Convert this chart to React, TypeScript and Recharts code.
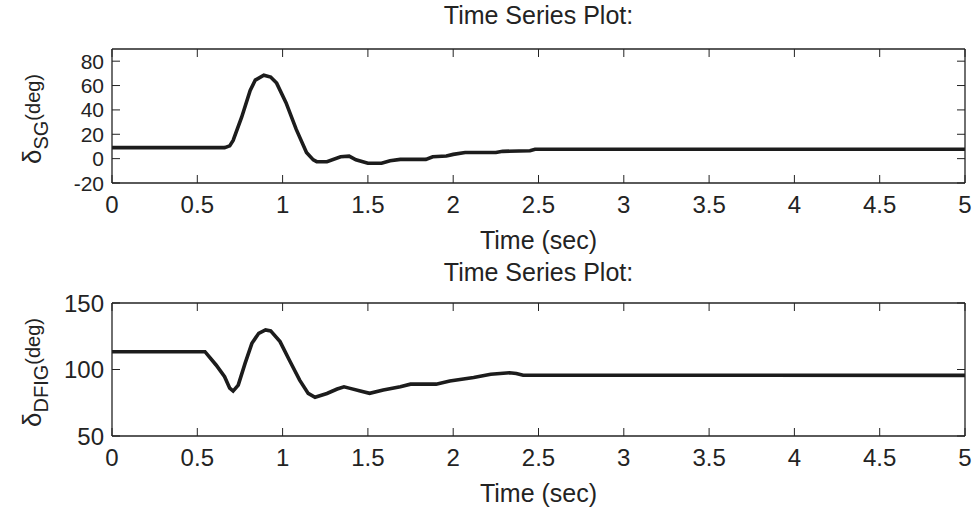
import React from 'react';
import { LineChart, Line, XAxis, YAxis } from 'recharts';

// time axis ticks shared by both subplots
const timeTicks = [0, 0.5, 1, 1.5, 2, 2.5, 3, 3.5, 4, 4.5, 5];
const sgTicks = [-20, 0, 20, 40, 60, 80];
const dfigTicks = [50, 100, 150];

// synchronous generator rotor angle (deg)
const sgTime = [0, 0.66, 0.69, 0.71, 0.76, 0.81, 0.84, 0.89, 0.93, 0.965, 1.02, 1.08, 1.14, 1.18, 1.2, 1.26, 1.34, 1.39, 1.43, 1.5, 1.58, 1.63, 1.69, 1.84, 1.88, 1.96, 2.0, 2.07, 2.25, 2.29, 2.45, 2.48, 5];
const sgAngle = [9, 9, 10.5, 15, 34, 56, 64.5, 68.5, 67, 62, 46, 24, 5, -1, -2.5, -2.5, 1.5, 2, -1, -3.8, -3.8, -1.7, -0.6, -0.6, 1.5, 2.2, 3.5, 5, 5, 6, 6.5, 7.7, 7.7];

// DFIG rotor angle (deg)
const dfigTime = [0, 0.545, 0.61, 0.66, 0.69, 0.71, 0.74, 0.78, 0.82, 0.86, 0.9, 0.93, 0.985, 1.04, 1.1, 1.15, 1.19, 1.26, 1.32, 1.36, 1.39, 1.45, 1.51, 1.59, 1.69, 1.75, 1.9, 1.98, 2.12, 2.22, 2.33, 2.37, 2.41, 5];
const dfigAngle = [113.4, 113.4, 103.4, 94.6, 86, 83.8, 88.3, 104.6, 119.7, 127.2, 129.7, 129, 121, 107, 92, 82, 79.1, 82, 85.3, 87, 86, 84.1, 82.1, 84.6, 87.1, 89, 89, 91.4, 94, 96.4, 97.6, 97, 95.7, 95.6];

const sgData = sgTime.map((t, i) => ({ t, v: sgAngle[i] }));
const dfigData = dfigTime.map((t, i) => ({ t, v: dfigAngle[i] }));

const FONT = '"Liberation Sans", Arial, Helvetica, sans-serif';
const INK = '#232323';
const TICK = 8;
const W = 975;
const LEFT = 112;
const RIGHT = 10;
const TOP = 49;
const PLOT_W = W - LEFT - RIGHT;

const XTick = (props: any) => {
  const { x, y, payload, plotH } = props;
  return (
    <g>
      <line x1={x} x2={x} y1={y} y2={y - TICK} stroke={INK} />
      <line x1={x} x2={x} y1={y - plotH} y2={y - plotH + TICK} stroke={INK} />
      <text x={x} y={y + 21.5} textAnchor="middle" dy="0.36em" fontFamily={FONT} fontSize={24} fill={INK}>
        {payload.value}
      </text>
    </g>
  );
};

const YTick = (props: any) => {
  const { x, y, payload, size } = props;
  return (
    <g>
      <line x1={x} x2={x + TICK} y1={y} y2={y} stroke={INK} />
      <line x1={x + PLOT_W} x2={x + PLOT_W - TICK} y1={y} y2={y} stroke={INK} />
      <text x={x - 8} y={y} textAnchor="end" dy="0.36em" fontFamily={FONT} fontSize={size} fill={INK}>
        {payload.value}
      </text>
    </g>
  );
};

const Title = ({ y, children }: { y: number; children: React.ReactNode }) => (
  <text x={LEFT + PLOT_W / 2} y={y} textAnchor="middle" dy="0.36em" fontFamily={FONT} fontSize={25} fill={INK}>
    {children}
  </text>
);

const YLabel = ({ sub, cy }: { sub: string; cy: number }) => (
  <text
    transform={`translate(41,${cy}) rotate(-90)`}
    textAnchor="middle"
    fontFamily={FONT}
    fontSize={20}
    fill={INK}
  >
    <tspan fontSize={26}>δ</tspan>
    <tspan dy={7}>{sub}</tspan>
    <tspan dy={-8}>(deg)</tspan>
  </text>
);

const Panel = ({ data, domain, ticks, sub, height, bottom, titleY, tickFont }: any) => {
  const plotH = height - TOP - bottom;
  const axisLine = { stroke: INK, strokeWidth: 1.3 };
  return (
    <LineChart
      width={W}
      height={height}
      data={data}
      margin={{ top: TOP - 10, right: 0, bottom: 0, left: 0 }}
    >
      <XAxis
        dataKey="t"
        type="number"
        domain={[0, 5]}
        ticks={timeTicks}
        height={bottom}
        tickSize={0}
        tickMargin={0}
        tickLine={false}
        axisLine={axisLine}
        tick={<XTick plotH={plotH} />}
        interval={0}
      />
      <XAxis
        xAxisId="top"
        orientation="top"
        type="number"
        domain={[0, 5]}
        height={10}
        tick={false}
        tickLine={false}
        axisLine={axisLine}
      />
      <YAxis
        type="number"
        domain={domain}
        ticks={ticks}
        allowDataOverflow
        width={LEFT}
        tickSize={0}
        tickMargin={0}
        tickLine={false}
        axisLine={axisLine}
        tick={<YTick size={tickFont} />}
        interval={0}
      />
      <YAxis
        yAxisId="right"
        orientation="right"
        type="number"
        domain={domain}
        width={RIGHT}
        tick={false}
        tickLine={false}
        axisLine={axisLine}
      />
      <Line
        type="linear"
        dataKey="v"
        stroke="#1c1c1c"
        strokeWidth={3.6}
        dot={false}
        isAnimationActive={false}
      />
      <Title y={titleY}>Time Series Plot:</Title>
      <Title y={height - bottom + 57}>Time (sec)</Title>
      <YLabel sub={sub} cy={TOP + plotH / 2 + 3} />
    </LineChart>
  );
};

export default function App() {
  return (
    <div style={{ position: 'absolute', left: 0, top: 0, width: W, height: 509, background: '#fff' }}>
      <div style={{ position: 'absolute', left: 0, top: 0 }}>
        <Panel data={sgData} domain={[-20, 90]} ticks={sgTicks} sub="SG" height={254} bottom={71} titleY={15} tickFont={21} />
      </div>
      <div style={{ position: 'absolute', left: 0, top: 254 }}>
        <Panel data={dfigData} domain={[50, 150]} ticks={dfigTicks} sub="DFIG" height={255} bottom={73} titleY={18} tickFont={24} />
      </div>
    </div>
  );
}
